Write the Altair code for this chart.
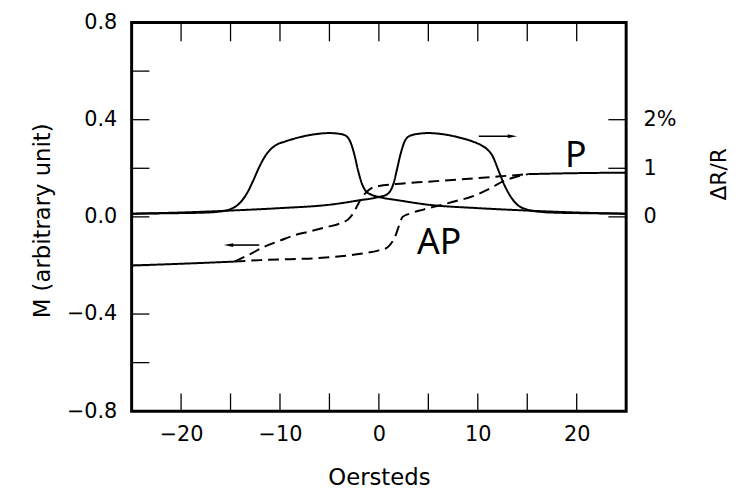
import altair as alt
import pandas as pd

W, HT = 500, 393
FONT = "DejaVu Sans"

# Magnetoresistance curves (plotted on M scale: 1% = 0.2)
MR_A_H = [25, 20, 15, 10, 5, 2, 0, -0.8, -1.3, -1.7, -2.1, -2.5, -2.9, -3.3, -4, -5, -6.5, -8, -9.5, -10.3, -10.9, -11.5, -12.1, -12.7, -13.3, -14, -15, -16.5, -18, -21, -25]
MR_A_M = [0.013, 0.018, 0.026, 0.036, 0.05, 0.068, 0.082, 0.092, 0.105, 0.135, 0.19, 0.26, 0.31, 0.333, 0.342, 0.345, 0.34, 0.328, 0.31, 0.298, 0.28, 0.25, 0.205, 0.15, 0.1, 0.06, 0.032, 0.02, 0.017, 0.015, 0.013]
MR_B_H = [-25, -20, -15, -10, -5, -2, 0, 0.8, 1.2, 1.5, 1.8, 2.2, 2.6, 3.1, 4, 5, 6.5, 8, 9.5, 10.3, 10.9, 11.5, 12.1, 12.7, 13.3, 14, 15, 16.5, 18, 21, 25]
MR_B_M = [0.013, 0.018, 0.026, 0.036, 0.05, 0.068, 0.082, 0.092, 0.11, 0.14, 0.19, 0.26, 0.31, 0.333, 0.342, 0.345, 0.34, 0.328, 0.31, 0.296, 0.28, 0.25, 0.19, 0.13, 0.085, 0.05, 0.03, 0.02, 0.017, 0.015, 0.013]

# Magnetization loop
M_RIGHT_H = [25, 20, 15.1]
M_RIGHT_M = [0.182, 0.180, 0.176]
M_LEFT_H = [-14.6, -20, -25]
M_LEFT_M = [-0.184, -0.193, -0.200]
M_DOWN_H = [15.1, 12, 8.4, 5, 1.7, 0, -0.6, -1.3, -1.8, -2.2, -2.6, -3.0, -4, -5.3, -7, -8.5, -9.9, -10.8, -11.6, -13, -14.6]
M_DOWN_M = [0.176, 0.166, 0.155, 0.145, 0.135, 0.127, 0.121, 0.100, 0.075, 0.045, 0.015, -0.006, -0.028, -0.042, -0.06, -0.075, -0.096, -0.11, -0.123, -0.153, -0.184]
M_UP_H = [-14.6, -12, -9, -6.3, -3, 0, 0.7, 1.1, 1.4, 1.7, 2.0, 2.4, 3.1, 4.5, 6.1, 7.5, 9.7, 11, 12.7, 14, 15.1]
M_UP_M = [-0.184, -0.178, -0.174, -0.17, -0.158, -0.138, -0.13, -0.116, -0.1, -0.075, -0.04, 0.0, 0.013, 0.03, 0.047, 0.062, 0.088, 0.112, 0.149, 0.166, 0.176]

# Arrows
ARROW_X1 = [10.1, -12.1]
ARROW_X2 = [13.5, -15.2]
ARROW_Y = [0.332, -0.116]
ARROW_DIR = ["right", "left"]

# Text labels
LABEL_TEXT = ["P", "AP"]
LABEL_X = [19.9, 6.1]
LABEL_Y = [0.25, -0.11]

X_TICKS = [-20, -15, -10, -5, 0, 5, 10, 15, 20]
X_LABELS = [-20, -10, 0, 10, 20]
Y_TICKS = [-0.6, -0.4, -0.2, 0, 0.2, 0.4, 0.6]
Y_LABELS = [-0.8, -0.4, 0.0, 0.4, 0.8]
R_TICKS = [0, 0.2, 0.4]

rows = []
for seg, dash, hs, ms in [
    ("mr_a", "solid", MR_A_H, MR_A_M),
    ("mr_b", "solid", MR_B_H, MR_B_M),
    ("m_right", "solid", M_RIGHT_H, M_RIGHT_M),
    ("m_left", "solid", M_LEFT_H, M_LEFT_M),
    ("m_down", "dashed", M_DOWN_H, M_DOWN_M),
    ("m_up", "dashed", M_UP_H, M_UP_M),
]:
    for h, m in zip(hs, ms):
        rows.append({"seg": seg, "dash": dash, "H": h, "M": m})
curves = pd.DataFrame(rows)

xscale = alt.Scale(domain=[-25, 25], nice=False, zero=False)
yscale = alt.Scale(domain=[-0.8, 0.8], nice=False, zero=False)

xaxis = alt.Axis(values=X_LABELS, ticks=False, domain=False, grid=False,
                 labelFont=FONT, labelFontSize=21, labelPadding=13, labelColor="black",
                 title="Oersteds", titleFont=FONT, titleFontSize=23, titleFontWeight="normal",
                 titleColor="black", titleY=67, titleBaseline="middle")
yaxis = alt.Axis(values=Y_LABELS, ticks=False, domain=False, grid=False, format=".1f",
                 labelFont=FONT, labelFontSize=21, labelPadding=15, labelColor="black",
                 title="M (arbitrary unit)", titleFont=FONT, titleFontSize=23,
                 titleFontWeight="normal", titleColor="black",
                 titleX=-90, titleY=200, titleAngle=270, titleBaseline="middle", titleAlign="center")

X = lambda f: alt.X(f, type="quantitative", scale=xscale, axis=xaxis)
Y = lambda f: alt.Y(f, type="quantitative", scale=yscale, axis=yaxis)

lines = alt.Chart(curves).mark_line(color="black", strokeWidth=2, interpolate="monotone").encode(
    x=X("H"), y=Y("M"), detail="seg:N", order=alt.Order("H:Q"),
    strokeDash=alt.StrokeDash("dash:N", scale=alt.Scale(domain=["solid", "dashed"], range=[[1, 0], [11, 6]]), legend=None),
)

arrows_df = pd.DataFrame({"x1": ARROW_X1, "x2": ARROW_X2, "y": ARROW_Y, "dir": ARROW_DIR})
arrow_lines = alt.Chart(arrows_df).mark_rule(color="black", strokeWidth=1.6).encode(
    x=X("x1"), x2="x2", y=Y("y"))
heads_r = alt.Chart(arrows_df).transform_filter("datum.dir == 'right'").mark_point(
    shape="M1,0L-1,-0.4L-1,0.4Z", filled=True, color="black", opacity=1, size=90
).encode(x=X("x2"), y=Y("y"))
heads_l = alt.Chart(arrows_df).transform_filter("datum.dir == 'left'").mark_point(
    shape="M-1,0L1,-0.4L1,0.4Z", filled=True, color="black", opacity=1, size=90
).encode(x=X("x2"), y=Y("y"))

labels_df = pd.DataFrame({"t": LABEL_TEXT, "x": LABEL_X, "y": LABEL_Y})
labels = alt.Chart(labels_df).mark_text(font="Noto Sans", fontSize=36, color="black",
                                        align="center", baseline="middle").encode(
    x=X("x"), y=Y("y"), text="t:N")

xt = pd.DataFrame({"t": X_TICKS})
bottom_ticks = alt.Chart(xt).mark_rule(color="black", strokeWidth=1.3).encode(
    x=X("t"), y=alt.value(HT - 18), y2=alt.value(HT))
top_ticks = alt.Chart(xt).mark_rule(color="black", strokeWidth=1.3).encode(
    x=X("t"), y=alt.value(0), y2=alt.value(19))
yt = pd.DataFrame({"t": Y_TICKS})
left_ticks = alt.Chart(yt).mark_rule(color="black", strokeWidth=1.3).encode(
    y=Y("t"), x=alt.value(0), x2=alt.value(18))

frame = alt.Chart(pd.DataFrame({"a": [0]})).mark_rect(
    fillOpacity=0, stroke="black", strokeWidth=3
).encode(x=alt.value(0), x2=alt.value(W), y=alt.value(0), y2=alt.value(HT))

left = alt.layer(lines, arrow_lines, heads_r, heads_l, labels, bottom_ticks, top_ticks, left_ticks, frame)

raxis = alt.Axis(values=R_TICKS, orient="right", ticks=False, domain=False, grid=False,
                 labelExpr="datum.value > 0.3 ? '2%' : (datum.value > 0.1 ? '1' : '0')",
                 labelFont=FONT, labelFontSize=21, labelPadding=17, labelColor="black", labelAlign="left",
                 title="ΔR/R", titleFont=FONT, titleFontSize=22, titleFontWeight="normal",
                 titleColor="black", titleAngle=270, titleX=93, titleY=153,
                 titleBaseline="middle", titleAlign="center")
rt = pd.DataFrame({"t": R_TICKS})
right_ticks = alt.Chart(rt).mark_rule(color="black", strokeWidth=1.3).encode(
    y=alt.Y("t:Q", scale=yscale, axis=raxis), x=alt.value(W - 18), x2=alt.value(W))

chart = alt.layer(left, right_ticks).resolve_scale(y="independent").properties(
    width=W, height=HT,
    autosize=alt.AutoSizeParams(type="none"),
    padding={"left": 125, "top": 12, "right": 105, "bottom": 80},
).configure_view(strokeWidth=0).configure(background="white")

chart.save("out.html", embed_options={"renderer": "svg", "actions": False})
